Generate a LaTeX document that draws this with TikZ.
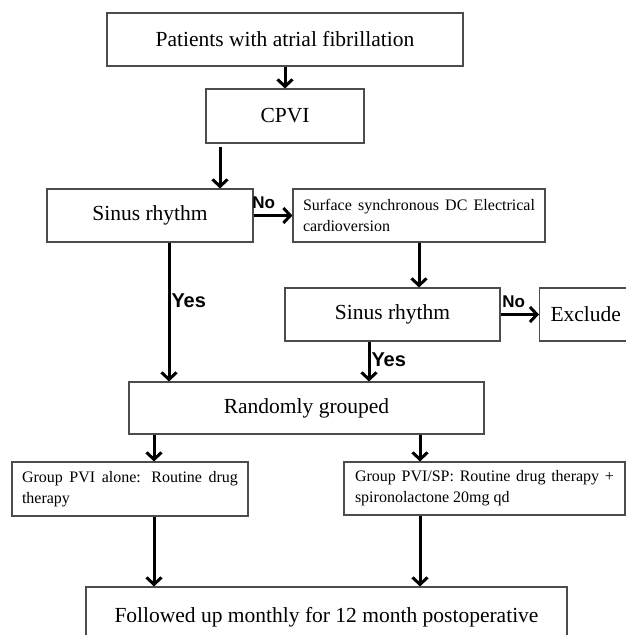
\documentclass[tikz,border=0pt]{standalone}
\usepackage{fontspec}
\setmainfont{Liberation Serif}
\newfontfamily\etykfont{Liberation Sans}
\usetikzlibrary{arrows.meta}

\begin{document}
\begin{tikzpicture}[
  x=1pt, y=-1pt,
  font=\fontsize{21.5}{26}\selectfont,
  box/.style={draw=black!70, line width=1.1pt, inner sep=0pt, minimum height=53pt},
  smallbox/.style={box, font=\fontsize{16}{21}\selectfont, align=justify, inner xsep=10pt},
  arr/.style={line width=3pt, -{Straight Barb[length=7pt,width=15pt]}},
  lbl/.style={font=\etykfont\bfseries\fontsize{20}{23}\selectfont, inner sep=1pt},
  nolbl/.style={lbl, font=\etykfont\bfseries\fontsize{17}{20}\selectfont, above, yshift=4pt},
]
\clip (0,0) rectangle (626,635);
% kwalifikacja
\node[box, minimum width=356pt] (pat) at (285,39.5) {Patients with atrial fibrillation};
\node[box, minimum width=158pt, minimum height=54pt] (cpvi) at (285,116) {CPVI};
\draw[arr] (pat.south) -- (cpvi.north);
\node[box, minimum width=206pt] (sin1) at (150,215.5) {Sinus rhythm};
\coordinate (c1) at (220,147);
\draw[arr] (c1) -- (c1 |- sin1.north);
% kardiowersja
\node[smallbox, text width=232pt] (kardio) at (419,215.5) {Surface synchronous DC Electrical cardioversion};
\draw[arr] (sin1.east) -- node[nolbl, pos=0.26] {No} (kardio.west);
\node[box, minimum width=215pt] (sin2) at (392.5,314.5) {Sinus rhythm};
\draw[arr] (kardio.south) -- (kardio.south |- sin2.north);
\node[box, anchor=west, minimum width=122pt, text width=100pt, inner xsep=11pt, align=left] (excl) at (539,314.5) {Exclude};
\draw[arr] (sin2.east) -- node[nolbl, pos=0.34] {No} (excl.west);
% randomizacja
\node[box, minimum width=355pt, minimum height=52pt] (rand) at (306.5,408) {Randomly grouped};
\draw[arr] ([xshift=19pt]sin1.south) -- node[lbl, right, pos=0.42] {Yes} ([xshift=19pt]sin1.south |- rand.north);
\draw[arr] ([xshift=-23.5pt]sin2.south) -- node[lbl, right, pos=0.46] {Yes} ([xshift=-23.5pt]sin2.south |- rand.north);
% grupy
\node[smallbox, text width=216pt, minimum height=54pt] (grp1) at (130,489) {Group PVI alone: Routine drug therapy};
\node[smallbox, text width=259pt, inner xsep=11pt] (grp2) at (484.5,488.5) {Group PVI/SP: Routine drug therapy + spironolactone 20mg qd};
\node[box, minimum width=481pt, minimum height=61pt] (follow) at (326.5,617.5) {Followed up monthly for 12 month postoperative};
\coordinate (a1) at (154,0);
\coordinate (a2) at (420,0);
\draw[arr] (a1 |- rand.south) -- (a1 |- grp1.north);
\draw[arr] (a2 |- rand.south) -- (a2 |- grp2.north);
\draw[arr] (a1 |- grp1.south) -- (a1 |- follow.north);
\draw[arr] (a2 |- grp2.south) -- (a2 |- follow.north);
\end{tikzpicture}
\end{document}
